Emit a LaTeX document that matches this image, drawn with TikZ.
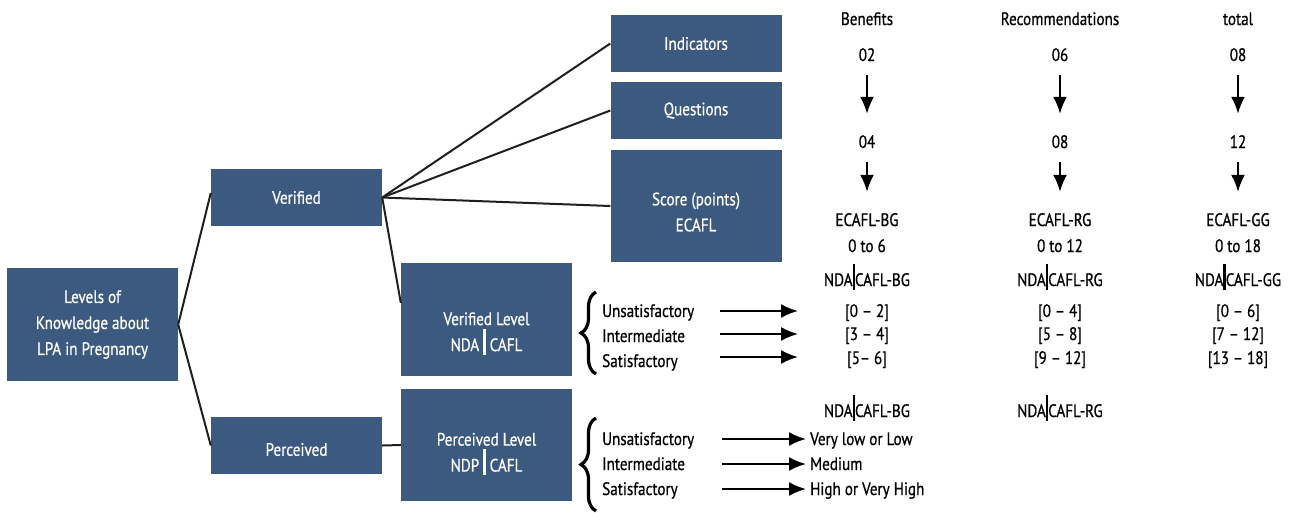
\documentclass[tikz,border=0pt]{standalone}
\usepackage{fontspec}
\setmainfont[FakeStretch=0.84, FakeBold=0.7]{PT Sans}
\usetikzlibrary{arrows.meta,positioning,decorations.pathreplacing}
\definecolor{box-color}{HTML}{3C5A80}
\newcommand{\barsep}{\rule[-.4ex]{2.4pt}{2.9ex}}

\begin{document}
\begin{tikzpicture}[x=1pt, y=-1pt,
                >=Latex,
                every node/.append style={align=center, font=\fontsize{18}{26}\selectfont},
                box/.style={fill=box-color, text=white, minimum width=171pt, minimum height=57pt, inner sep=0pt},
                tallbox/.style={box, minimum height=113pt},
                boxlabel/.style={text=white, inner sep=0pt, yshift=#1},
                link/.style={line width=2pt, draw=black!88},
                downarr/.style={->, line width=2pt, shorten <=14pt, shorten >=22pt, >={Latex[length=17pt,width=14pt]}},
                rightarr/.style={->, line width=2pt, >={Latex[length=17pt,width=14pt]}},
                coltext/.style={text height=12pt, text depth=0pt, inner sep=0pt},
                curly/.style={decorate, decoration={brace, amplitude=15pt}, line width=3.2pt}]
   \useasboundingbox (0,0) rectangle (1290,512);

   % boxes
   \node [tallbox] (root) at (92.5,324.5) {Levels of\\Knowledge about\\LPA in Pregnancy};
   \node [box, label={[boxlabel=0pt]center:Verified}] (ver) at (296.5,197.5) {};
   \node [box, label={[boxlabel=-4pt]center:Perceived}] (per) at (296.5,445.5) {};
   \node [box] (ind) at (696,43.5) {Indicators};
   \node [box] (que) at (696,110.5) {Questions};
   \node [tallbox, minimum height=112pt,
          label={[boxlabel=-6pt]center:Score (points)\\ECAFL}] (sco) at (696,206) {};
   \node [tallbox, label={[boxlabel=-14pt]center:Verified Level\\NDA \barsep{} CAFL}] (vlev) at (486.5,319.5) {};
   \node [tallbox, minimum height=112pt,
          label={[boxlabel=-9pt]center:Perceived Level\\NDP \barsep{} CAFL}] (plev) at (486.5,445) {};

   % links
   \draw [link] (root.east) -- (ver.177);
   \draw [link] (root.east) -- (per.west);
   \draw [link] (ver.east) -- (ind.west);
   \draw [link] (ver.east) -- (que.west);
   \draw [link] (ver.east) -- (sco.west);
   \draw [link] (ver.east) -- (vlev.169);
   \draw [link] (per.east) -- (plev.west);

   % columns
   \foreach \i/\x/\head/\a/\b/\g/\rng/\ra/\rb/\rc in
      {1/867/Benefits/02/04/BG/0 to 6/{[0 -- 2]}/{[3 -- 4]}/{[5-- 6]},
       2/1060/Recommendations/06/08/RG/0 to 12/{[0 -- 4]}/{[5 -- 8]}/{[9 -- 12]},
       3/1238/total/08/12/GG/0 to 18/{[0 -- 6]}/{[7 -- 12]}/{[13 -- 18]}} {
      \node [coltext] (head\i) at (\x,19) {\head};
      \node [coltext] (top\i) at (\x,55) {\a};
      \node [coltext] (mid\i) at (\x,142) {\b};
      \node [coltext] (ecafl\i) at (\x,220) {ECAFL-\g};
      \node [coltext] (rng\i) at (\x,246) {\rng};
      \node [coltext] (nda\i) at (\x,280) {NDA\barsep CAFL-\g};
      \node [coltext] (ra\i) at (\x,311) {\ra};
      \node [coltext] (rb\i) at (\x,334) {\rb};
      \node [coltext] (rc\i) at (\x,358) {\rc};
      \draw [downarr] (top\i) -- (mid\i);
      \draw [downarr] (mid\i) -- (ecafl\i);
   }

   % verified level
   \coordinate (vb1) at (596,374);
   \coordinate (vb2) at (596,292);
   \draw [curly] (vb1) -- (vb2);
   \foreach \i/\y/\lab in {1/311/Unsatisfactory, 2/336/Intermediate, 3/361/Satisfactory} {
      \node [coltext, anchor=west] (vl\i) at (602,\y) {\lab};
   }
   \foreach \i/\y in {1/311, 2/334, 3/357} {
      \coordinate (vs\i) at (720,\y);
      \coordinate (ve\i) at (798,\y);
      \draw [rightarr] (vs\i) -- (ve\i);
   }

   % perceived level
   \coordinate (pb1) at (596,511);
   \coordinate (pb2) at (596,418);
   \draw [curly] (pb1) -- (pb2);
   \node [coltext] (pnda1) at (867,411) {NDA\barsep CAFL-BG};
   \node [coltext] (pnda2) at (1060,411) {NDA\barsep CAFL-RG};
   \foreach \i/\y/\lab/\res in {1/439/Unsatisfactory/Very low or Low, 2/464/Intermediate/Medium, 3/489/Satisfactory/High or Very High} {
      \node [coltext, anchor=west] (pl\i) at (602,\y) {\lab};
      \node [coltext, anchor=west] (pr\i) at (810,\y) {\res};
      \coordinate (ps\i) at (722,\y);
      \coordinate (pe\i) at (806,\y);
      \draw [rightarr] (ps\i) -- (pe\i);
   }
\end{tikzpicture}
\end{document}
